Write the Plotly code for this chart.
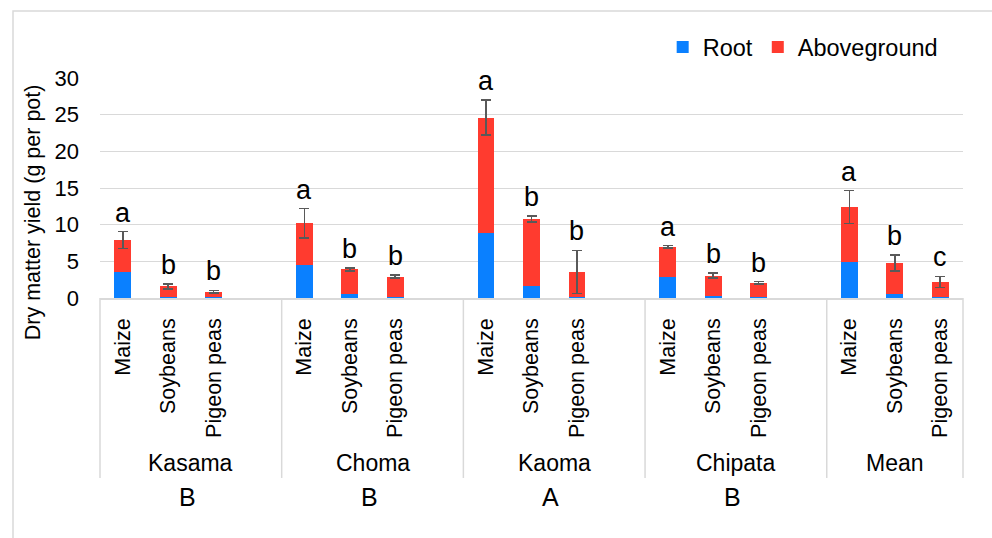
import plotly.graph_objects as go

# ---- data ----
sites = ["Kasama", "Choma", "Kaoma", "Chipata", "Mean"]
site_letters = ["B", "B", "A", "B", ""]
crops = ["Maize", "Soybeans", "Pigeon peas"]

# total dry matter (root + aboveground), root part, and error (+/-)
total = [7.9, 1.6, 0.85, 10.2, 3.9, 2.9, 24.6, 10.8, 3.55, 7.0, 3.05, 2.1, 12.4, 4.8, 2.2]
root = [3.6, 0.2, 0.1, 4.55, 0.5, 0.2, 8.8, 1.7, 0.1, 2.8, 0.3, 0.1, 4.9, 0.6, 0.1]
err = [1.15, 0.35, 0.2, 2.0, 0.2, 0.2, 2.4, 0.4, 2.95, 0.15, 0.35, 0.15, 2.25, 1.1, 0.75]
crop_letters = ["a", "b", "b", "a", "b", "b", "a", "b", "b", "a", "b", "b", "a", "b", "c"]

y_ticks = [0, 5, 10, 15, 20, 25, 30]

# ---- positions: each site is a block of 4 slots (3 crops + 1 gap), last block has 3 ----
xpos, xlab = [], []
for si, s in enumerate(sites):
    for ci, c in enumerate(crops):
        xpos.append(si * 4 + ci)
        xlab.append(c)
aboveground = [t - r for t, r in zip(total, root)]
n_slots = 4 * len(sites) - 1
x_lo, x_hi = -0.5, n_slots - 0.5

BLUE = "#0A80FF"
RED = "#FF3B2F"
GRID = "#D9D9D9"
FONT = "Liberation Sans, Arial, sans-serif"

fig = go.Figure()
fig.add_trace(go.Bar(x=xpos, y=root, name="Root", marker_color=BLUE, width=0.37,
                     marker_line_width=0))
fig.add_trace(go.Bar(x=xpos, y=aboveground, name="Aboveground", marker_color=RED, width=0.37,
                     marker_line_width=0,
                     error_y=dict(type="data", array=err, visible=True, color="#595959",
                                  thickness=1.6, width=5)))

annotations = []
for x, t, e, L in zip(xpos, total, err, crop_letters):
    annotations.append(dict(x=x, y=t + e, xref="x", yref="y", text=L, showarrow=False,
                            xanchor="center", yanchor="bottom", yshift=2,
                            font=dict(size=27, color="#000")))

def px(xv):
    return (xv - x_lo) / (x_hi - x_lo)

shapes = []
for si, s in enumerate(sites):
    lo = si * 4 - 0.5
    hi = min(si * 4 + 3.5, x_hi)
    mid = (lo + hi) / 2
    annotations.append(dict(x=px(mid), y=-0.75, xref="paper", yref="paper", text=s,
                            showarrow=False, xanchor="center", yanchor="middle",
                            font=dict(size=23, color="#000")))
    if site_letters[si]:
        annotations.append(dict(x=px(mid) - 0.004, y=-0.905, xref="paper", yref="paper",
                                text=site_letters[si], showarrow=False, xanchor="center",
                                yanchor="middle", font=dict(size=25, color="#000")))
    for b in ((lo, hi) if si == 0 else (hi,)):
        shapes.append(dict(type="line", xref="paper", yref="paper", x0=px(b), x1=px(b),
                           y0=0, y1=-0.818, line=dict(color=GRID, width=1.5)))

# y-axis title
annotations.append(dict(x=-0.0776, y=0.39, xref="paper", yref="paper",
                        text="Dry matter yield (g per pot)", textangle=-90, showarrow=False,
                        xanchor="center", yanchor="middle",
                        font=dict(size=21.5, color="#000")))

# outer frame (left & top visible)
shapes.append(dict(type="rect", xref="paper", yref="paper", x0=-0.1008, x1=1.2,
                   y0=-1.2, y1=1.3045, line=dict(color=GRID, width=1.5), layer="below"))

fig.update_layout(
    width=992, height=538,
    margin=dict(l=100, r=29, t=78, b=240),
    paper_bgcolor="white", plot_bgcolor="white",
    barmode="stack", bargap=0,
    font=dict(family=FONT, size=21, color="#000"),
    showlegend=True,
    legend=dict(orientation="h", x=0.652, y=1.14, xanchor="left", yanchor="middle",
                font=dict(size=23.5), traceorder="normal", itemwidth=30,
                bgcolor="rgba(0,0,0,0)"),
    annotations=annotations, shapes=shapes,
    xaxis=dict(range=[x_lo, x_hi], tickmode="array", tickvals=xpos, ticktext=xlab,
               tickangle=-90, showgrid=False, zeroline=False, showline=True,
               linecolor=GRID, linewidth=1.5, ticks="", ticklabelstandoff=10,
               tickfont=dict(size=21.5)),
    yaxis=dict(range=[0, 30], tickmode="array", tickvals=y_ticks, showgrid=True,
               gridcolor=GRID, gridwidth=1.3, zeroline=False, showline=False, ticks="",
               ticklabelstandoff=20, tickfont=dict(size=22)),
)

fig.write_html("out.html", config={"displayModeBar": False},
               post_script="document.body.style.margin='0';")
